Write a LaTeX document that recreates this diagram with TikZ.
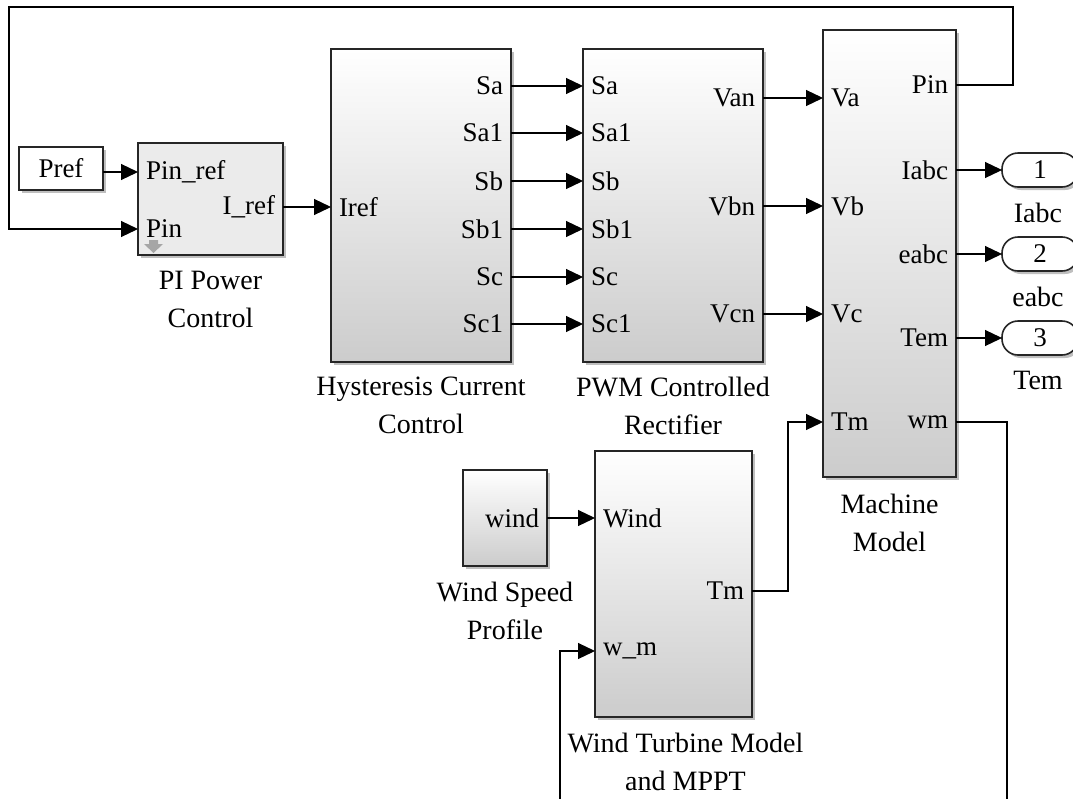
\documentclass[tikz,border=0pt]{standalone}
\usepackage{fontspec}
\setmainfont{Liberation Serif}
\usetikzlibrary{arrows.meta,shadows,positioning}

\tikzset{
	block/.style={draw=black!85, line width=1.6pt, top color=white, bottom color=black!20,
		drop shadow={shadow xshift=3pt, shadow yshift=-3pt, opacity=0.5}, inner sep=0pt, outer sep=0pt},
	piblk/.style={block, top color=black!8, bottom color=black!8},
	constblk/.style={draw=black!85, line width=1.6pt, fill=white, inner sep=0pt, outer sep=0pt,
		drop shadow={shadow xshift=3pt, shadow yshift=-3pt, opacity=0.5}},
	outterm/.style={constblk, rounded corners=16pt, minimum width=76pt, minimum height=34pt},
	inport/.style={anchor=west, inner xsep=8pt, inner ysep=0pt, outer sep=0pt},
	outport/.style={anchor=east, inner xsep=8pt, inner ysep=0pt, outer sep=0pt},
	caption/.style={align=center, inner sep=0pt, font=\fontsize{28}{38}\selectfont},
	sig/.style={line width=1.2pt, -{Triangle[length=17pt,width=16pt]}},
	wire/.style={line width=1.2pt}
}

\begin{document}
\begin{tikzpicture}[x=1pt, y=-1pt, font=\fontsize{27}{38}\selectfont]

	\useasboundingbox[fill=white] (0,0) rectangle (1073,798);

	% blocks
	\node[constblk, minimum width=84pt, minimum height=43pt] (pref) at (61,168.5) {Pref};
	\node[piblk, minimum width=145pt, minimum height=112pt] (pi) at (210.5,199) {};
	\node[block, minimum width=180pt, minimum height=313pt] (hcc) at (421,205.5) {};
	\node[block, minimum width=180pt, minimum height=313pt] (pwm) at (673,205.5) {};
	\node[block, minimum width=133pt, minimum height=447pt] (mm) at (889.5,253.5) {};
	\node[block, minimum width=84pt, minimum height=96pt] (ws) at (505,518) {};
	\node[block, minimum width=157pt, minimum height=266pt] (wt) at (673.5,584) {};

	\node[outterm] (out1) at (1040,170) {1};
	\node[outterm] (out2) at (1040,254) {2};
	\node[outterm] (out3) at (1040,338) {3};

	% block names
	\node[caption, below=16pt of pi] {PI Power\\Control};
	\node[caption, below=15pt of hcc] {Hysteresis Current\\Control};
	\node[caption, below=15pt of pwm] {PWM Controlled\\Rectifier};
	\node[caption, below=17pt of mm] {Machine\\Model};
	\node[caption, below=16pt of ws] {Wind Speed\\Profile};
	\node[caption, below=16pt of wt, xshift=12pt] {Wind Turbine Model\\and MPPT};
	\node[caption, below=16pt of out1, xshift=-2pt] {Iabc};
	\node[caption, below=16pt of out2, xshift=-2pt] {eabc};
	\node[caption, below=16pt of out3, xshift=-2pt] {Tem};

	% ports
	\node[inport] (pi-pinref) at (pi.west |- 0,172) {Pin\_ref};
	\node[inport] (pi-pin) at (pi.west |- 0,229) {Pin};
	\node[outport] (pi-iref) at (pi.east |- 0,207) {I\_ref};
	\fill[black!35] (149,240) -- (158,240) -- (158,244) -- (163,244) -- (153.5,253) -- (144,244) -- (149,244) -- cycle;

	\node[inport] (hcc-iref) at (hcc.west |- 0,207) {Iref};
	\node[outport] (hcc-sa) at (hcc.east |- 0,86) {Sa};
	\node[outport] (hcc-sa1) at (hcc.east |- 0,133) {Sa1};
	\node[outport] (hcc-sb) at (hcc.east |- 0,181) {Sb};
	\node[outport] (hcc-sb1) at (hcc.east |- 0,229) {Sb1};
	\node[outport] (hcc-sc) at (hcc.east |- 0,277) {Sc};
	\node[outport] (hcc-sc1) at (hcc.east |- 0,324) {Sc1};

	\node[inport] (pwm-sa) at (pwm.west |- 0,86) {Sa};
	\node[inport] (pwm-sa1) at (pwm.west |- 0,133) {Sa1};
	\node[inport] (pwm-sb) at (pwm.west |- 0,181) {Sb};
	\node[inport] (pwm-sb1) at (pwm.west |- 0,229) {Sb1};
	\node[inport] (pwm-sc) at (pwm.west |- 0,277) {Sc};
	\node[inport] (pwm-sc1) at (pwm.west |- 0,324) {Sc1};
	\node[outport] (pwm-van) at (pwm.east |- 0,98) {Van};
	\node[outport] (pwm-vbn) at (pwm.east |- 0,206) {Vbn};
	\node[outport] (pwm-vcn) at (pwm.east |- 0,314) {Vcn};

	\node[inport] (mm-va) at (mm.west |- 0,98) {Va};
	\node[inport] (mm-vb) at (mm.west |- 0,206) {Vb};
	\node[inport] (mm-vc) at (mm.west |- 0,314) {Vc};
	\node[inport] (mm-tm) at (mm.west |- 0,422) {Tm};
	\node[outport] (mm-pin) at (mm.east |- 0,85) {Pin};
	\node[outport] (mm-iabc) at (mm.east |- 0,170) {Iabc};
	\node[outport] (mm-eabc) at (mm.east |- 0,254) {eabc};
	\node[outport] (mm-tem) at (mm.east |- 0,338) {Tem};
	\node[outport] (mm-wm) at (mm.east |- 0,422) {wm};

	\node[outport] (ws-wind) at (ws.east |- 0,518) {wind};
	\node[inport] (wt-wind) at (wt.west |- 0,518) {Wind};
	\node[inport] (wt-wm) at (wt.west |- 0,651) {w\_m};
	\node[outport] (wt-tm) at (wt.east |- 0,591) {Tm};

	% signals
	\draw[sig] (pref.east |- pi-pinref) -- (pi-pinref.west);
	\draw[sig] (pi-iref) -- (hcc-iref);
	\draw[sig] (hcc-sa) -- (pwm-sa);
	\draw[sig] (hcc-sa1) -- (pwm-sa1);
	\draw[sig] (hcc-sb) -- (pwm-sb);
	\draw[sig] (hcc-sb1) -- (pwm-sb1);
	\draw[sig] (hcc-sc) -- (pwm-sc);
	\draw[sig] (hcc-sc1) -- (pwm-sc1);
	\draw[sig] (pwm-van) -- (mm-va);
	\draw[sig] (pwm-vbn) -- (mm-vb);
	\draw[sig] (pwm-vcn) -- (mm-vc);
	\draw[sig] (mm-iabc) -- (out1);
	\draw[sig] (mm-eabc) -- (out2);
	\draw[sig] (mm-tem) -- (out3);
	\draw[sig] (ws-wind) -- (wt-wind);
	\draw[sig] (wt-tm.east) -- ++(36,0) |- (mm-tm.west);

	% feedback lines
	\coordinate (fbR) at (1013,7);
	\coordinate (fbL) at (9,229);
	\draw[sig] (mm-pin.east) -| (fbR) -| (fbL) -- (pi-pin.west);
	\coordinate (wmB) at (1007,800);
	\coordinate (wmS) at (560,800);
	\draw[wire] (mm-wm.east) -| (wmB);
	\draw[sig] (wmS) |- (wt-wm.west);
\end{tikzpicture}
\end{document}
